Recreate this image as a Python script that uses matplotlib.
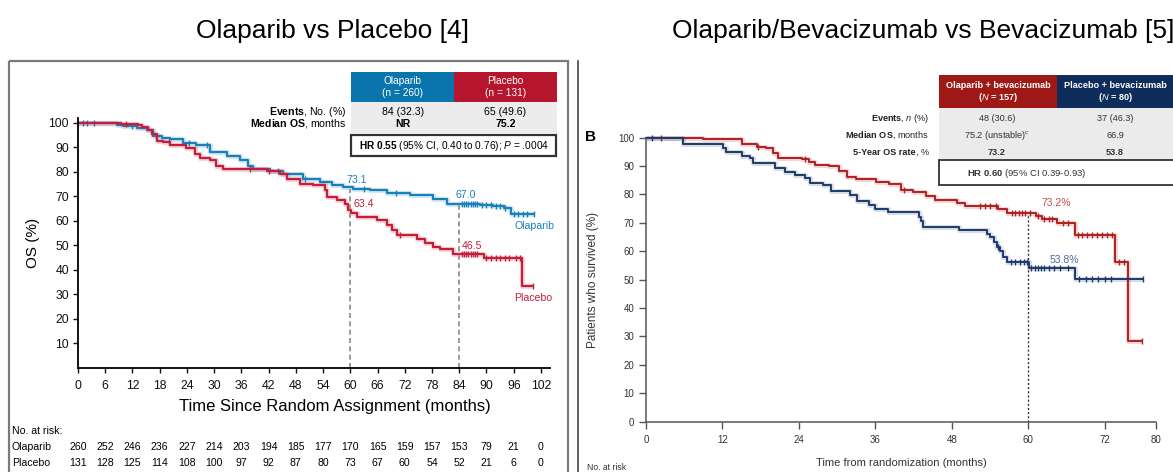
import numpy as np
import matplotlib.pyplot as plt
from matplotlib.patches import Rectangle
from matplotlib.transforms import blended_transform_factory

plt.rcParams['font.family'] = ['Liberation Sans', 'DejaVu Sans']
plt.rcParams['mathtext.fontset'] = 'custom'
plt.rcParams['mathtext.rm'] = 'Liberation Sans'
plt.rcParams['mathtext.bf'] = 'Liberation Sans:bold'
plt.rcParams['mathtext.it'] = 'Liberation Sans:italic'

# ---- left panel: Olaparib vs Placebo ----
ola_t = [0, 8.5, 10, 12.9, 15.1, 16.6, 18.5, 20.3, 23.2, 26.1, 29.1, 32.8, 35.7, 37.5, 38.6,
         42.3, 45.2, 49.6, 53.3, 56, 58.4, 60.6, 64.3, 68, 73.1, 78.3, 81.2, 88.5, 91.5, 93.8, 95.3]
ola_s = [100, 99.3, 98.6, 97.8, 96.9, 94.8, 94.0, 93.5, 91.7, 91.0, 88.1, 86.5, 84.7, 82.5, 81.3,
         80.2, 79.3, 77.2, 75.9, 74.5, 73.8, 73.1, 72.5, 71.5, 70.5, 69.1, 67.0, 66.5, 66.0, 65.3, 63.0]
ola_end = 100.5
ola_cens = [1, 2, 3.5, 12, 24.5, 28.5, 44, 50, 63, 70, 84.5, 85, 85.5, 86, 86.5, 87, 87.5, 88,
            89, 90, 91, 92, 93, 94, 96, 97, 98, 99, 100.5]

pla_t = [0, 9.5, 13.3, 14, 15.5, 16.2, 17.3, 18.8, 20.3, 23.9, 25.8, 26.9, 29.1, 30.5, 32, 41.6,
         44.5, 46, 48.9, 51.8, 54.4, 54.8, 57, 58.8, 59.5, 60.2, 61.5, 65.8, 68, 69.1, 70.2, 74.6,
         76.4, 78.3, 79.7, 82.7, 89.4, 97.8]
pla_s = [100, 99.5, 99.0, 98.2, 96.9, 95.5, 92.8, 92.1, 90.8, 89.7, 87.4, 85.6, 84.7, 82.6, 81.0, 80.2,
         79.3, 77.2, 75.2, 74.5, 72.5, 69.8, 68.4, 67.1, 64.4, 63.4, 61.7, 60.3, 58.3, 56.2, 54.2, 52.8,
         50.8, 49.5, 48.5, 46.5, 45.0, 33.4]
pla_end = 100.3
pla_cens = [10.5, 20, 38, 42, 71, 84.5, 85, 85.5, 86, 86.5, 87, 87.5, 88, 90, 91, 92, 93, 94, 95,
            96.5, 97.3, 100.3]

left_land_t = [60, 84]
left_land_ola = [73.1, 67.0]
left_land_pla = [63.4, 46.5]

risk_t = list(range(0, 103, 6))
risk_ola = [260, 252, 246, 236, 227, 214, 203, 194, 185, 177, 170, 165, 159, 157, 153, 79, 21, 0]
risk_pla = [131, 128, 125, 114, 108, 100, 97, 92, 87, 80, 73, 67, 60, 54, 52, 21, 6, 0]

# ---- right panel: Olaparib/Bevacizumab vs Bevacizumab ----
ob_t = [0, 9, 15, 17.4, 18.9, 20, 20.8, 24.5, 25.6, 26.6, 28.7, 30.3, 31.6, 32.9, 36.1, 38.2, 40,
        41.9, 44, 45.3, 48.8, 50, 55.3, 56.6, 61.2, 62.1, 64.5, 67.3, 73.6, 75.6]
ob_s = [100, 99.4, 97.6, 96.8, 96.2, 94.5, 92.9, 92.4, 91.5, 90.4, 89.8, 88.2, 86.2, 85.4, 84.5,
        83.5, 81.5, 80.9, 79.5, 78.0, 77.0, 75.9, 74.7, 73.3, 72.3, 71.2, 69.8, 65.7, 56.3, 28.5]
ob_end = 77.8
ob_cens = [2.3, 17.6, 25, 40.5, 52.5, 53.2, 54, 55, 57.5, 58, 58.5, 59, 59.5, 60.3, 61.5, 62.5,
           63.2, 63.8, 65.5, 66.2, 67.8, 68.5, 69.2, 70, 70.8, 71.6, 72.4, 73.1, 74.3, 75, 77.8]

pb_t = [0, 5.8, 12.1, 12.6, 15.1, 16.3, 16.8, 20.3, 21.8, 23.4, 25, 25.8, 27.8, 29.1, 32.1, 33.1,
        35, 36, 38, 42.8, 43.2, 43.5, 49.2, 53.5, 54, 54.6, 55.1, 55.6, 56, 56.6, 60.1, 67.4]
pb_s = [100, 97.6, 96.2, 94.8, 93.5, 92.7, 90.9, 89.2, 87.8, 86.8, 85.6, 83.9, 83.1, 81.2, 79.8,
        77.6, 76.2, 74.7, 73.6, 72.1, 70.7, 68.6, 67.3, 66.1, 64.8, 63.3, 61.5, 60.2, 58.0, 56.0,
        54.2, 50.2]
pb_end = 78
pb_cens = [0.9, 55.2, 57.3, 58, 58.7, 59.3, 59.8, 60.5, 61, 61.5, 62, 62.5, 63.3, 64, 65, 66.2,
           68, 69, 70, 71, 72, 73, 78]

right_land_t = 60
right_land_ob = 73.2
right_land_pb = 53.8

W, H = 1173, 472
BLUE = '#1a80b8'
RED = '#c41e3a'
RED2 = '#b0201f'
NAVY = '#1c3b6b'


def step_val(t, s, x):
    i = np.searchsorted(np.array(t), x, side='right') - 1
    return np.array(s)[i]


def km(ax, t, s, end, cens, color, lw=1.6, ms=5):
    tt = list(t) + [end]
    ss = list(s) + [s[-1]]
    ax.step(tt, ss, where='post', color=color, lw=lw + 2.2, alpha=0.18, clip_on=False,
            solid_capstyle='butt')
    ax.step(tt, ss, where='post', color=color, lw=lw, clip_on=False)
    ax.plot(cens, step_val(t, s, cens), ls='none', marker='|', ms=ms, mew=1.0, color=color,
            clip_on=False)


fig = plt.figure(figsize=(W / 100, H / 100), dpi=100)
ov = fig.add_axes([0, 0, 1, 1], zorder=3)
ov.set_xlim(0, W)
ov.set_ylim(H, 0)
ov.axis('off')
ov.patch.set_alpha(0)

# titles
ov.text(333, 31, 'Olaparib vs Placebo [4]', fontsize=19, ha='center', va='center')
ov.text(672, 31, 'Olaparib/Bevacizumab vs Bevacizumab [5]', fontsize=19, ha='left', va='center')

# panel frames
ov.add_patch(Rectangle((9, 61), 559, 430, fill=False, ec='#7a7a7a', lw=1.6, clip_on=False))
ov.plot([578, 578], [61, H], color='#444444', lw=1.2)

# ---------------- left axes ----------------
ax1 = fig.add_axes([78 / W, 1 - 368 / H, (550 - 78) / W, (368 - 118) / H])
ax1.set_xlim(0, 104)
ax1.set_ylim(0, 102)
for sp in ['top', 'right']:
    ax1.spines[sp].set_visible(False)
for sp in ['left', 'bottom']:
    ax1.spines[sp].set_linewidth(1.3)
ax1.set_xticks(risk_t)
ax1.set_yticks(range(10, 101, 10))
ax1.tick_params(axis='both', labelsize=8.8, length=3.5, width=1, colors='#111111', pad=3)
ax1.tick_params(axis='x', pad=5)
ax1.set_ylabel('OS (%)', fontsize=11, labelpad=6)

km(ax1, ola_t, ola_s, ola_end, ola_cens, BLUE)
km(ax1, pla_t, pla_s, pla_end, pla_cens, RED)
ax1.vlines(left_land_t, 0, left_land_ola, colors='#888888', linestyles=(0, (3, 2)), lw=1.2)
for x, v in zip(left_land_t, left_land_ola):
    ax1.text(x + 1.5, v + 1.5, f'{v:.1f}', color=BLUE, fontsize=7.6,
             ha='center', va='bottom')
for x, v in zip(left_land_t, left_land_pla):
    ax1.text(x + 0.6, v + 1.3, f'{v:.1f}', color=RED, fontsize=7.6,
             ha='left', va='bottom')
ax1.text(ola_end, ola_s[-1] - 3, 'Olaparib', color=BLUE, fontsize=7.6,
         ha='center', va='top')
ax1.text(pla_end, pla_s[-1] - 3, 'Placebo', color=RED, fontsize=7.6,
         ha='center', va='top')

ov.text(335, 407, 'Time Since Random Assignment (months)', fontsize=12,
        ha='center', va='center')
tr1 = blended_transform_factory(ax1.transData, ov.transData)
ov.text(12, 431, 'No. at risk:', fontsize=7.6, va='center')
ov.text(12, 447, 'Olaparib', fontsize=7.6, va='center')
ov.text(12, 463, 'Placebo', fontsize=7.6, va='center')
for x, a, b in zip(risk_t, risk_ola, risk_pla):
    ov.text(x, 447, str(a), transform=tr1, fontsize=7.6, ha='center', va='center')
    ov.text(x, 463, str(b), transform=tr1, fontsize=7.6, ha='center', va='center')

# left summary table
ov.add_patch(Rectangle((351, 72), 103, 30, color='#0a74ad', lw=0))
ov.add_patch(Rectangle((454, 72), 103, 30, color='#b5162e', lw=0))
ov.add_patch(Rectangle((351, 102), 206, 31, color='#ececec', lw=0))
ov.add_patch(Rectangle((351, 135), 205, 21, fill=False, ec='#333333', lw=1.6))
ov.text(402.5, 87, 'Olaparib\n(n = 260)', color='white', fontsize=7.3,
        ha='center', va='center', linespacing=1.3)
ov.text(505.5, 87, 'Placebo\n(n = 131)', color='white', fontsize=7.3,
        ha='center', va='center', linespacing=1.3)
ov.text(346, 112, r'$\bf{Events}$, No. (%)', fontsize=7.6, ha='right', va='center')
ov.text(346, 124, r'$\bf{Median\ OS}$, months', fontsize=7.6, ha='right', va='center')
ov.text(403, 112, '84 (32.3)', fontsize=7.6, ha='center', va='center')
ov.text(505.5, 112, '65 (49.6)', fontsize=7.6, ha='center', va='center')
ov.text(403, 124, 'NR', fontsize=7.6, fontweight='bold', ha='center', va='center')
ov.text(505.5, 124, '75.2', fontsize=7.6, fontweight='bold', ha='center', va='center')
ov.text(453.5, 146, r'$\bf{HR\ 0.55}$ (95% CI, 0.40 to 0.76); $\it{P}$ = .0004', fontsize=7.3,
        ha='center', va='center')

# ---------------- right axes ----------------
ax2 = fig.add_axes([646 / W, 1 - 421.5 / H, (1155.6 - 646) / W, (421.5 - 137.5) / H])
ax2.set_xlim(0, 80)
ax2.set_ylim(0, 100)
for sp in ['top', 'right']:
    ax2.spines[sp].set_visible(False)
for sp in ['left', 'bottom']:
    ax2.spines[sp].set_color('#555555')
    ax2.spines[sp].set_linewidth(1.1)
ax2.set_xticks([0, 12, 24, 36, 48, 60, 72, 80])
ax2.set_yticks(range(0, 101, 10))
ax2.tick_params(axis='both', labelsize=7, length=5, width=1, color='#555555',
                labelcolor='#333333', direction='out')
ax2.tick_params(axis='x', pad=5)
ax2.set_ylabel('Patients who survived (%)', fontsize=8.5, color='#333333', labelpad=14)

ax2.vlines(right_land_t, 0, right_land_ob, colors='#333333', linestyles=(0, (1.5, 1.5)), lw=1)
km(ax2, ob_t, ob_s, ob_end, ob_cens, RED2, lw=1.4, ms=4)
km(ax2, pb_t, pb_s, pb_end, pb_cens, NAVY, lw=1.4, ms=4)
ax2.text(right_land_t + 4.4, right_land_ob + 1.8, f'{right_land_ob}%', color='#c44d4d',
         fontsize=7.5, ha='center', va='bottom')
ax2.text(right_land_t + 5.6, right_land_pb + 1.2, f'{right_land_pb}%', color='#4f6d99',
         fontsize=7.5, ha='center', va='bottom')

ov.text(591, 137, 'B', fontsize=11, fontweight='bold', ha='center', va='center')
ov.text(901, 463, 'Time from randomization (months)', fontsize=8, color='#333333',
        ha='center', va='center')
ov.text(587, 467, 'No. at risk', fontsize=6.2, color='#333333', va='center')

# right summary table
ov.add_patch(Rectangle((939, 75), 118, 33, color='#9e1915', lw=0))
ov.add_patch(Rectangle((1057, 75), 118, 33, color='#0e2d5a', lw=0))
ov.add_patch(Rectangle((939, 108), 236, 52, color='#ebebeb', lw=0))
ov.add_patch(Rectangle((939, 160), 236, 25, facecolor='white', ec='#333333', lw=1.3))
ov.text(998, 85, 'Olaparib + bevacizumab', color='white', fontsize=6.6, fontweight='bold',
        ha='center', va='center')
ov.text(998, 97, r'($\it{N}$ = 157)', color='white', fontsize=6.6, fontweight='bold',
        ha='center', va='center')
ov.text(1115, 85, 'Placebo + bevacizumab', color='white', fontsize=6.6, fontweight='bold',
        ha='center', va='center')
ov.text(1115, 97, r'($\it{N}$ = 80)', color='white', fontsize=6.6, fontweight='bold',
        ha='center', va='center')
ov.text(929, 118.5, r'$\bf{Events}$, $\it{n}$ (%)', fontsize=6.6, color='#222222',
        ha='right', va='center')
ov.text(929, 135.5, r'$\bf{Median\ OS}$, months', fontsize=6.6, color='#222222',
        ha='right', va='center')
ov.text(916, 152.5, '5-Year OS rate', fontsize=6.6, fontweight='bold', color='#222222',
        ha='right', va='center')
ov.text(929, 152.5, ', %', fontsize=6.6, color='#222222', ha='right', va='center')
ov.text(997, 118.5, '48 (30.6)', fontsize=6.6, color='#333333', ha='center', va='center')
ov.text(1115, 118.5, '37 (46.3)', fontsize=6.6, color='#333333', ha='center', va='center')
ov.text(997, 135.5, r'75.2 (unstable)$^{c}$', fontsize=6.6, color='#333333', ha='center',
        va='center')
ov.text(1115, 135.5, '66.9', fontsize=6.6, color='#333333', ha='center', va='center')
ov.text(997, 152.5, '73.2', fontsize=6.6, fontweight='bold', color='#333333', ha='center',
        va='center')
ov.text(1115, 152.5, '53.8', fontsize=6.6, fontweight='bold', color='#333333', ha='center',
        va='center')
ov.text(1027, 173, r'$\bf{HR\ 0.60}$ (95% CI 0.39-0.93)', fontsize=6.8, color='#333333',
        ha='center', va='center')

fig.savefig('out.png', dpi=100)
